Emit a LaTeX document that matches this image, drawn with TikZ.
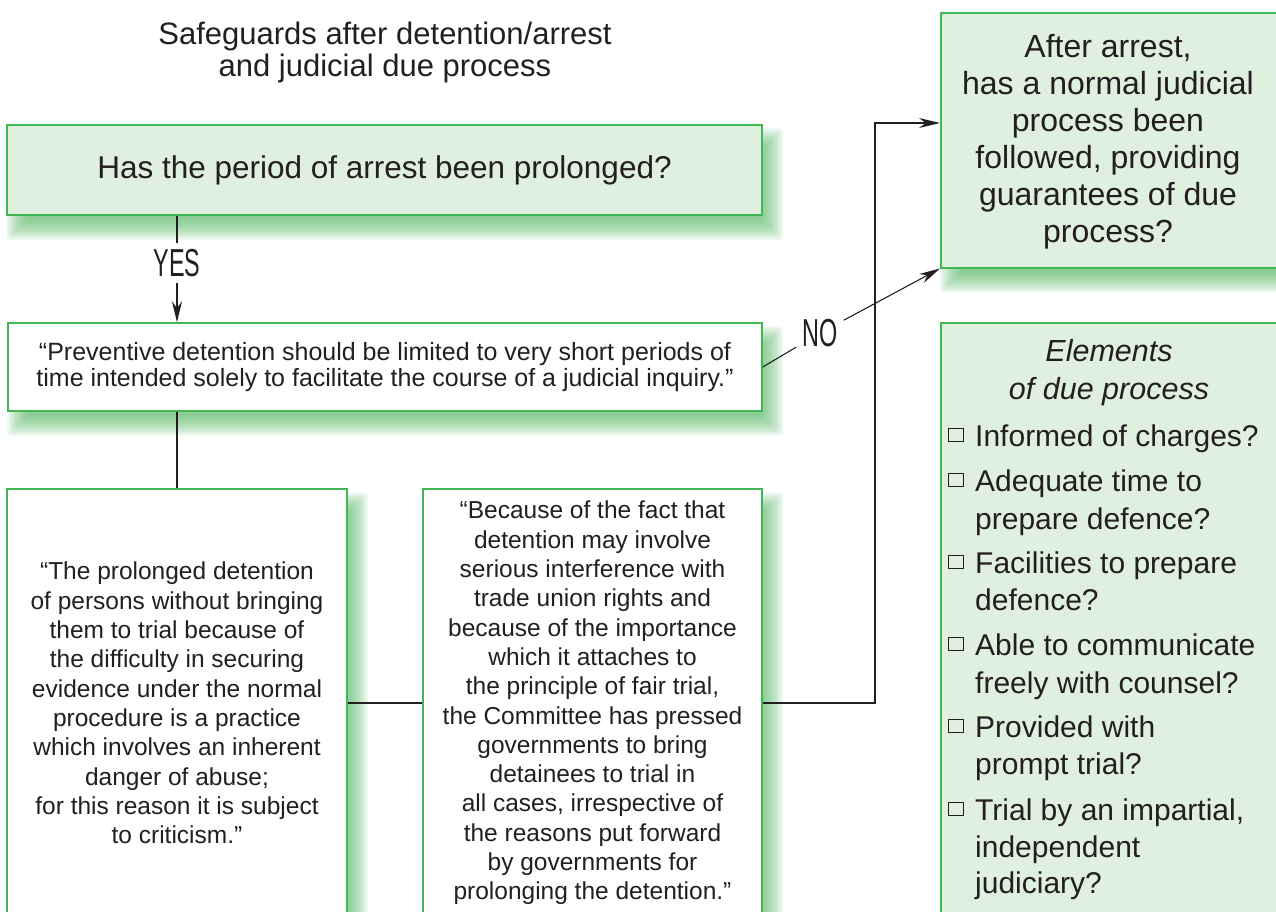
\documentclass[tikz,border=0pt]{standalone}
\usepackage{fontspec}
\setmainfont{Liberation Sans}
\newfontfamily\condfont[FakeStretch=0.6]{Liberation Sans}
\usetikzlibrary{arrows.meta,calc,backgrounds}
\definecolor{mint}{RGB}{223,240,222}
\definecolor{boxgreen}{RGB}{64,182,84}
\definecolor{shadowgreen}{RGB}{90,184,104}
\definecolor{ink}{RGB}{35,31,32}
\begin{document}
\begin{tikzpicture}[x=1pt,y=-1pt,
  conn/.style={draw=ink,line width=1.1pt},
  arr/.style={conn,-{Stealth[length=21pt,width=10pt]}},
  boxbase/.style={draw=boxgreen,line width=1.5pt,inner sep=0pt,text=ink,align=center},
  gbox/.style={boxbase,fill=mint},
  wbox/.style={boxbase,fill=white},
  yesno/.style={font=\condfont\fontsize{39}{39}\selectfont,inner sep=6pt,text=ink},
  txt/.style={text=ink,align=center,inner sep=0pt},
  listline/.style={anchor=base west,inner sep=0pt,text=ink,font=\fontsize{30}{36}\selectfont},
  chk/.style={draw=ink,line width=1.2pt,minimum width=14.5pt,minimum height=13.5pt,inner sep=0pt}
]
\useasboundingbox (0,0) rectangle (1276,911);
\clip (0,0) rectangle (1276,911);

% title
\node[txt,font=\fontsize{31}{32}\selectfont] (title) at (385,52)
  {Safeguards after detention/arrest\\and judicial due process};

% left column
\node[gbox,minimum width=755pt,minimum height=90pt,font=\fontsize{31.5}{36}\selectfont] (q1) at (384.5,170)
  {Has the period of arrest been prolonged?};
\node[yesno] (yes) at (177,263) {YES};
\node[wbox,minimum width=754pt,minimum height=88pt,font=\fontsize{25}{26.5}\selectfont] (q2) at (385,367)
  {“Preventive detention should be limited to very short periods of\\time intended solely to facilitate the course of a judicial inquiry.”};

\node[wbox,minimum width=340pt,minimum height=428pt,font=\fontsize{24.5}{29.3}\selectfont] (c1) at (177,703)
  {“The prolonged detention\\of persons without bringing\\them to trial because of\\the difficulty in securing\\evidence under the normal\\procedure is a practice\\which involves an inherent\\danger of abuse;\\for this reason it is subject\\to criticism.”};
\node[wbox,minimum width=339pt,minimum height=428pt,font=\fontsize{24.5}{29.3}\selectfont] (c2) at (592.5,703)
  {“Because of the fact that\\detention may involve\\serious interference with\\trade union rights and\\because of the importance\\which it attaches to\\the principle of fair trial,\\the Committee has pressed\\governments to bring\\detainees to trial in\\all cases, irrespective of\\the reasons put forward\\by governments for\\prolonging the detention.”};

% right column
\node[gbox,anchor=north west,minimum width=370pt,minimum height=255pt] (rt) at (940,12) {};
\node[txt,font=\fontsize{32}{37}\selectfont] (rtq) at (1108,142)
  {After arrest,\\has a normal judicial\\process been\\followed, providing\\guarantees of due\\process?};
\node[gbox,anchor=north west,minimum width=370pt,minimum height=620pt] (rb) at (940,322) {};
\node[txt,font=\itshape\fontsize{30.5}{38}\selectfont] (eh) at (1109,373) {Elements\\of due process};

\node[chk] (k1) at (956,435) {};
\node[chk] (k2) at (956,480) {};
\node[chk] (k3) at (956,562) {};
\node[chk] (k4) at (956,644) {};
\node[chk] (k5) at (956,726) {};
\node[chk] (k6) at (956,809) {};
\node[listline] (l1) at (975,446) {Informed of charges?};
\node[listline] (l2) at (975,491) {Adequate time to};
\node[listline] (l3) at (975,529) {prepare defence?};
\node[listline] (l4) at (975,573) {Facilities to prepare};
\node[listline] (l5) at (975,610) {defence?};
\node[listline] (l6) at (975,655) {Able to communicate};
\node[listline] (l7) at (975,693) {freely with counsel?};
\node[listline] (l8) at (975,737) {Provided with};
\node[listline] (l9) at (975,774) {prompt trial?};
\node[listline] (l10) at (975,820) {Trial by an impartial,};
\node[listline] (l11) at (975,857) {independent};
\node[listline] (l12) at (975,893) {judiciary?};

% connectors
\draw[conn] (q1.south -| yes) -- (yes);
\draw[arr] (yes) -- (q2.north -| yes);
\draw[conn] (q2.south -| c1.north) -- (c1.north);
\draw[conn] (c1.east) -- (c2.west);
\coordinate (bend) at (875,123);
\draw[arr] (c2.east) -| (bend) -- (rt.west |- bend);
\node[yesno] (no) at (820,333) {NO};
\draw[conn] (q2.east) -- (no);
\draw[arr] (no) -- (rt.south west);

% shadows
\begin{scope}[on background layer]
  \clip (0,0) rectangle (1276,911);
  \foreach \nm in {q1,q2,c1,c2,rt,rb}{
    \foreach \e in {-10,-8,...,10}{
      \fill[shadowgreen,opacity=0.1,rounded corners=3pt]
        ($(\nm.north west)+({10-(\e)},{14-(\e)})$) rectangle
        ($(\nm.south east)+({10+(\e)},{14+(\e)})$);
    }
  }
\end{scope}
\end{tikzpicture}
\end{document}
